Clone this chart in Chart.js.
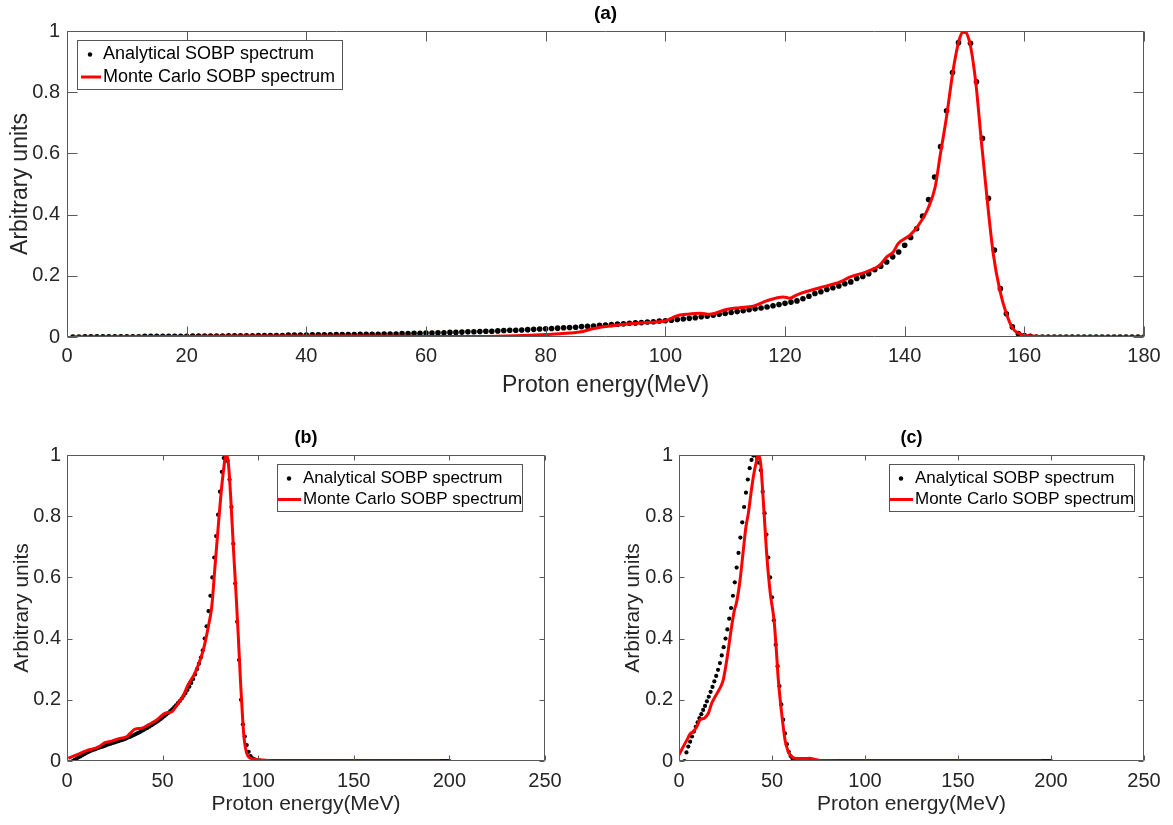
<!DOCTYPE html>
<html>
<head>
<meta charset="utf-8">
<title>SOBP spectra</title>
<script src="https://cdn.jsdelivr.net/npm/chart.js@4.4.1/dist/chart.umd.min.js"></script>
<style>
  body { margin: 0; background: #fff; }
  #wrap { position: relative; width: 1173px; height: 825px; overflow: hidden; }
  canvas { position: absolute; }
</style>
</head>
<body>
<div id="wrap">
  <canvas id="chartA" width="1173" height="410" style="left:0;top:0"></canvas>
  <canvas id="chartB" width="586" height="412" style="left:0;top:413px"></canvas>
  <canvas id="chartC" width="587" height="412" style="left:586px;top:413px"></canvas>
</div>
<script>
// ---- (a) analytical spectrum, one point per MeV starting at 1 MeV
const startA = 1;
const analyticA = [
  0.000,0.000,0.001,0.001,0.001,0.001,0.001,0.001,0.001,0.001,
  0.001,0.001,0.002,0.002,0.002,0.002,0.002,0.002,0.002,0.002,
  0.003,0.003,0.003,0.003,0.003,0.003,0.004,0.004,0.004,0.004,
  0.004,0.005,0.005,0.005,0.005,0.005,0.006,0.006,0.006,0.006,
  0.007,0.007,0.007,0.007,0.008,0.008,0.008,0.008,0.009,0.009,
  0.009,0.009,0.010,0.010,0.010,0.011,0.011,0.012,0.012,0.013,
  0.013,0.014,0.014,0.015,0.015,0.016,0.017,0.017,0.018,0.019,
  0.019,0.020,0.021,0.022,0.022,0.023,0.024,0.025,0.026,0.027,
  0.028,0.029,0.030,0.031,0.032,0.034,0.035,0.036,0.038,0.039,
  0.041,0.042,0.043,0.045,0.046,0.047,0.049,0.050,0.052,0.053,
  0.055,0.057,0.059,0.061,0.063,0.066,0.068,0.071,0.074,0.077,
  0.080,0.083,0.086,0.089,0.092,0.095,0.098,0.102,0.106,0.110,
  0.114,0.118,0.125,0.133,0.142,0.148,0.155,0.161,0.167,0.174,
  0.180,0.191,0.198,0.207,0.220,0.231,0.245,0.262,0.278,0.300,
  0.325,0.354,0.395,0.449,0.523,0.622,0.739,0.864,0.962,1.000,
  0.960,0.834,0.649,0.453,0.284,0.158,0.076,0.033,0.011,0.005,
  0.002,0,0,0,0,0,0,0,0,0,
  0,0,0,0,0,0,0,0,0,0
];
// (a) Monte Carlo spectrum
const mcEnergyA = [1,10,20,30,40,50,60,70,75,80,82.4,85.7,87.9,90,92.4,95.7,100.2,101.9,103.5,105.8,
  107.4,110.2,112.4,114.7,116.9,119.7,120.8,121.9,122.5,125.8,129.2,130.8,133.6,135.8,137,138.1,138.9,140.9,142.3,143.9,
  145.1,145.9,147,148.1,149.1,149.9,150.9,151.9,152.8,153.8,154.8,155.9,157,158.1,159.2,160.3,162.5,165,180];
const mcValueA = [0,0.001,0.002,0.003,0.003,0.003,0.002,0.002,0.004,0.008,0.011,0.016,0.027,0.034,0.040,0.046,0.054,0.069,0.074,0.078,
  0.074,0.090,0.096,0.101,0.118,0.131,0.127,0.137,0.142,0.161,0.180,0.196,0.213,0.234,0.262,0.278,0.305,0.333,0.365,0.420,
  0.490,0.589,0.720,0.872,0.970,1.000,0.960,0.829,0.643,0.447,0.273,0.153,0.076,0.027,0.011,0.005,0.002,0.001,0];

// ---- (b) analytical spectrum, one point per MeV starting at 3 MeV
const startB = 3;
const analyticB = [
  0.000,0.004,0.008,0.012,0.015,0.019,0.022,0.026,0.029,0.032,
  0.035,0.037,0.039,0.042,0.044,0.046,0.048,0.050,0.053,0.055,
  0.057,0.059,0.061,0.063,0.065,0.067,0.069,0.071,0.074,0.077,
  0.079,0.082,0.085,0.088,0.091,0.094,0.098,0.101,0.105,0.108,
  0.112,0.116,0.120,0.124,0.128,0.132,0.137,0.142,0.147,0.152,
  0.157,0.163,0.169,0.175,0.182,0.189,0.196,0.204,0.213,0.222,
  0.232,0.243,0.255,0.268,0.283,0.300,0.318,0.338,0.362,0.400,
  0.440,0.490,0.540,0.600,0.665,0.735,0.805,0.880,0.945,0.990,
  1.000,0.980,0.920,0.830,0.710,0.580,0.455,0.330,0.200,0.120,
  0.080,0.052,0.030,0.016,0.009,0.005,0.003,0.002,0.001,0,
  0,0,0,0,0,0,0,0,0,0,
  0,0,0,0,0,0,0,0,0,0,
  0,0,0,0,0,0,0,0,0,0,
  0,0,0,0,0,0,0,0,0,0,
  0,0,0,0,0,0,0,0,0,0,
  0,0,0,0,0,0,0,0,0,0,
  0,0,0,0,0,0,0,0,0,0,
  0,0,0,0,0,0,0,0,0,0,
  0,0,0,0,0,0,0,0,0,0,
  0,0,0,0,0,0,0,0
];
const mcEnergyB = [0.7,5,10.3,14.6,17,19.9,23.4,27.7,31.2,33,35.6,39.1,42.5,46.9,51.3,54.8,58.2,60.8,63.4,66.9,
  69.6,71.3,73.9,75.7,77.4,79.1,80.9,82.3,83,84.4,85.8,87,88.4,89.6,90.8,91.9,92.7,94,95.7,99.2,
  102.7,106,110,195];
const mcValueB = [0.009,0.020,0.034,0.041,0.048,0.060,0.065,0.074,0.079,0.090,0.104,0.107,0.118,0.134,0.156,0.161,0.189,0.213,0.250,0.287,
  0.330,0.363,0.439,0.504,0.635,0.766,0.896,0.973,1.000,0.973,0.842,0.700,0.548,0.406,0.254,0.134,0.070,0.025,0.010,0.005,
  0.003,0.001,0,0];

// ---- (c) analytical spectrum, one point per MeV starting at 3 MeV
const startC = 3;
const analyticC = [
  0.000,0.028,0.047,0.063,0.080,0.096,0.112,0.126,0.140,0.153,
  0.167,0.180,0.195,0.210,0.226,0.242,0.260,0.278,0.298,0.320,
  0.345,0.372,0.400,0.430,0.465,0.500,0.540,0.584,0.632,0.680,
  0.730,0.780,0.830,0.877,0.920,0.957,0.984,0.998,1.000,0.990,
  0.975,0.950,0.880,0.810,0.740,0.665,0.600,0.535,0.460,0.380,
  0.310,0.245,0.185,0.135,0.090,0.055,0.030,0.016,0.008,0.004,
  0.003,0.002,0.001,0,0,0,0,0,0,0,
  0,0,0,0,0,0,0,0,0,0,
  0,0,0,0,0,0,0,0,0,0,
  0,0,0,0,0,0,0,0,0,0,
  0,0,0,0,0,0,0,0,0,0,
  0,0,0,0,0,0,0,0,0,0,
  0,0,0,0,0,0,0,0,0,0,
  0,0,0,0,0,0,0,0,0,0,
  0,0,0,0,0,0,0,0,0,0,
  0,0,0,0,0,0,0,0,0,0,
  0,0,0,0,0,0,0,0,0,0,
  0,0,0,0,0,0,0,0,0,0,
  0,0,0,0,0,0,0,0,0,0,
  0,0,0,0,0,0,0,0
];
const mcEnergyC = [0,2.3,4.7,5.9,7.7,9.5,11.3,13.6,15.8,17.6,19.4,22,23.8,25.1,26.5,28,29.7,31,32.8,34.6,
  36,37.3,38.7,40,41.4,42.6,43.9,44.6,45.3,46.2,47.1,48.2,49.3,50.4,51.1,52.2,53.4,55.2,57,58.5,
  59.7,61,63.3,67,70.4,73,75.8,80,90,195];
const mcValueC = [0.020,0.047,0.074,0.088,0.096,0.112,0.134,0.140,0.156,0.189,0.210,0.238,0.265,0.308,0.363,0.428,0.490,0.520,0.590,0.690,
  0.766,0.810,0.875,0.930,0.973,1.000,0.973,0.918,0.853,0.766,0.680,0.600,0.537,0.493,0.460,0.374,0.265,0.156,0.069,0.035,
  0.020,0.012,0.008,0.008,0.009,0.005,0.002,0.001,0,0];

const seriesNames = ['Analytical SOBP spectrum', 'Monte Carlo SOBP spectrum'];
const yTicks = [0, 0.2, 0.4, 0.6, 0.8, 1];

const FONT = '"Liberation Sans", Arial, Helvetica, sans-serif';
const TEXT = '#262626';
const AXIS = '#595959';

function points(xs, ys) {
  return ys.map((y, i) => ({ x: xs[i], y }));
}
function perMeV(start, ys) {
  return ys.map((_, i) => start + i);
}

// box, inward ticks on all four sides, panel title and boxed legend
const boxFrame = {
  id: 'boxFrame',
  afterDraw(chart, args, o) {
    const { ctx, chartArea: a, scales: { x, y } } = chart;
    const L = Math.round(a.left) + 0.5, R = Math.round(a.right) - 0.5;
    const T = Math.round(a.top) + 0.5, B = Math.round(a.bottom) - 0.5;
    ctx.save();
    ctx.strokeStyle = AXIS;
    ctx.lineWidth = 1;
    ctx.beginPath();
    ctx.rect(L, T, R - L, B - T);
    x.ticks.forEach(t => {
      const px = Math.round(x.getPixelForValue(t.value)) + 0.5;
      ctx.moveTo(px, B); ctx.lineTo(px, B - o.tick);
      ctx.moveTo(px, T); ctx.lineTo(px, T + o.tick);
    });
    y.ticks.forEach(t => {
      const py = Math.round(y.getPixelForValue(t.value)) + 0.5;
      ctx.moveTo(L, py); ctx.lineTo(L + o.tick, py);
      ctx.moveTo(R, py); ctx.lineTo(R - o.tick, py);
    });
    ctx.stroke();

    ctx.fillStyle = '#000';
    ctx.font = `bold ${o.titleSize}px ${FONT}`;
    ctx.textAlign = 'center';
    ctx.textBaseline = 'middle';
    ctx.fillText(o.title, (a.left + a.right) / 2, o.titleY);

    const lg = o.legend;
    ctx.fillStyle = '#fff';
    ctx.fillRect(lg.x, lg.y, lg.w, lg.h);
    ctx.strokeStyle = '#555';
    ctx.strokeRect(lg.x + 0.5, lg.y + 0.5, lg.w, lg.h);
    const [dots, mc] = chart.data.datasets;
    ctx.fillStyle = '#000';
    ctx.beginPath();
    ctx.arc(lg.x + lg.dotX, lg.y + lg.r1, 2.2, 0, Math.PI * 2);
    ctx.fill();
    ctx.strokeStyle = mc.borderColor;
    ctx.lineWidth = 3;
    ctx.beginPath();
    ctx.moveTo(lg.x + lg.line0, lg.y + lg.r2);
    ctx.lineTo(lg.x + lg.line1, lg.y + lg.r2);
    ctx.stroke();
    ctx.fillStyle = '#000';
    ctx.font = `${lg.size}px ${FONT}`;
    ctx.textAlign = 'left';
    ctx.fillText(dots.label, lg.x + lg.textX, lg.y + lg.r1);
    ctx.fillText(mc.label, lg.x + lg.textX, lg.y + lg.r2);
    ctx.restore();
  }
};

function makeChart(id, cfg) {
  return new Chart(document.getElementById(id), {
    type: 'line',
    data: {
      datasets: [
        {
          label: seriesNames[0],
          data: points(cfg.dotX, cfg.dotY),
          showLine: false,
          pointRadius: cfg.dotR,
          pointBackgroundColor: '#000',
          pointBorderWidth: 0,
          order: 2
        },
        {
          label: seriesNames[1],
          data: points(cfg.lineX, cfg.lineY),
          borderColor: '#ff0000',
          borderWidth: 3,
          pointRadius: 0,
          cubicInterpolationMode: 'monotone',
          order: 1
        }
      ]
    },
    options: {
      responsive: false,
      animation: false,
      events: [],
      layout: { padding: { left: 0, top: cfg.padTop, right: cfg.padRight, bottom: 0 } },
      scales: {
        x: {
          type: 'linear',
          min: 0,
          max: cfg.xMax,
          afterBuildTicks: s => { s.ticks = cfg.xTicks.map(v => ({ value: v })); },
          ticks: { color: TEXT, font: { family: FONT, size: cfg.tickSize }, padding: cfg.xTickPad, maxRotation: 0 },
          grid: { display: false, drawTicks: false },
          border: { display: false },
          title: { display: true, text: 'Proton energy(MeV)', color: TEXT,
                   font: { family: FONT, size: cfg.labelSize, lineHeight: 1.2 }, padding: { bottom: cfg.xTitlePad } },
          afterFit: s => { s.height = cfg.xHeight; }
        },
        y: {
          min: 0,
          max: 1,
          afterBuildTicks: s => { s.ticks = yTicks.map(v => ({ value: v })); },
          ticks: { color: TEXT, font: { family: FONT, size: cfg.tickSize }, padding: cfg.yTickPad,
                   callback: v => String(+v.toFixed(1)) },
          grid: { display: false, drawTicks: false },
          border: { display: false },
          title: { display: true, text: 'Arbitrary units', color: TEXT,
                   font: { family: FONT, size: cfg.labelSize, lineHeight: 1.2 }, padding: { top: cfg.yTitlePad } },
          afterFit: s => { s.width = cfg.yWidth; }
        }
      },
      plugins: {
        legend: { display: false },
        tooltip: { enabled: false },
        boxFrame: cfg.frame
      }
    },
    plugins: [boxFrame]
  });
}

makeChart('chartA', {
  dotX: perMeV(startA, analyticA), dotY: analyticA, dotR: 2.8,
  lineX: mcEnergyA, lineY: mcValueA,
  xMax: 180, xTicks: [0, 20, 40, 60, 80, 100, 120, 140, 160, 180],
  padTop: 31, padRight: 29, xHeight: 73, yWidth: 67,
  tickSize: 20, labelSize: 23, xTickPad: 7, yTickPad: 7, xTitlePad: 11, yTitlePad: 7,
  frame: {
    tick: 10, title: '(a)', titleSize: 19, titleY: 14,
    legend: { x: 77, y: 40, w: 265, h: 49, r1: 14.5, r2: 37, dotX: 13, line0: 4, line1: 24, textX: 26, size: 18 }
  }
});

makeChart('chartB', {
  dotX: perMeV(startB, analyticB), dotY: analyticB, dotR: 2.1,
  lineX: mcEnergyB, lineY: mcValueB,
  xMax: 250, xTicks: [0, 50, 100, 150, 200, 250],
  padTop: 42, padRight: 41, xHeight: 64, yWidth: 67,
  tickSize: 20, labelSize: 21, xTickPad: 8, yTickPad: 6, xTitlePad: 8, yTitlePad: 10,
  frame: {
    tick: 5, title: '(b)', titleSize: 18, titleY: 25,
    legend: { x: 277, y: 51, w: 245, h: 47, r1: 14.5, r2: 35.5, dotX: 12, line0: 1, line1: 24, textX: 26, size: 17 }
  }
});

makeChart('chartC', {
  dotX: perMeV(startC, analyticC), dotY: analyticC, dotR: 2.1,
  lineX: mcEnergyC, lineY: mcValueC,
  xMax: 250, xTicks: [0, 50, 100, 150, 200, 250],
  padTop: 42, padRight: 29, xHeight: 64, yWidth: 93,
  tickSize: 20, labelSize: 21, xTickPad: 8, yTickPad: 6, xTitlePad: 8, yTitlePad: 35,
  frame: {
    tick: 5, title: '(c)', titleSize: 18, titleY: 25,
    legend: { x: 303, y: 51, w: 245, h: 47, r1: 14.5, r2: 35.5, dotX: 12, line0: 1, line1: 24, textX: 26, size: 17 }
  }
});
</script>
</body>
</html>
